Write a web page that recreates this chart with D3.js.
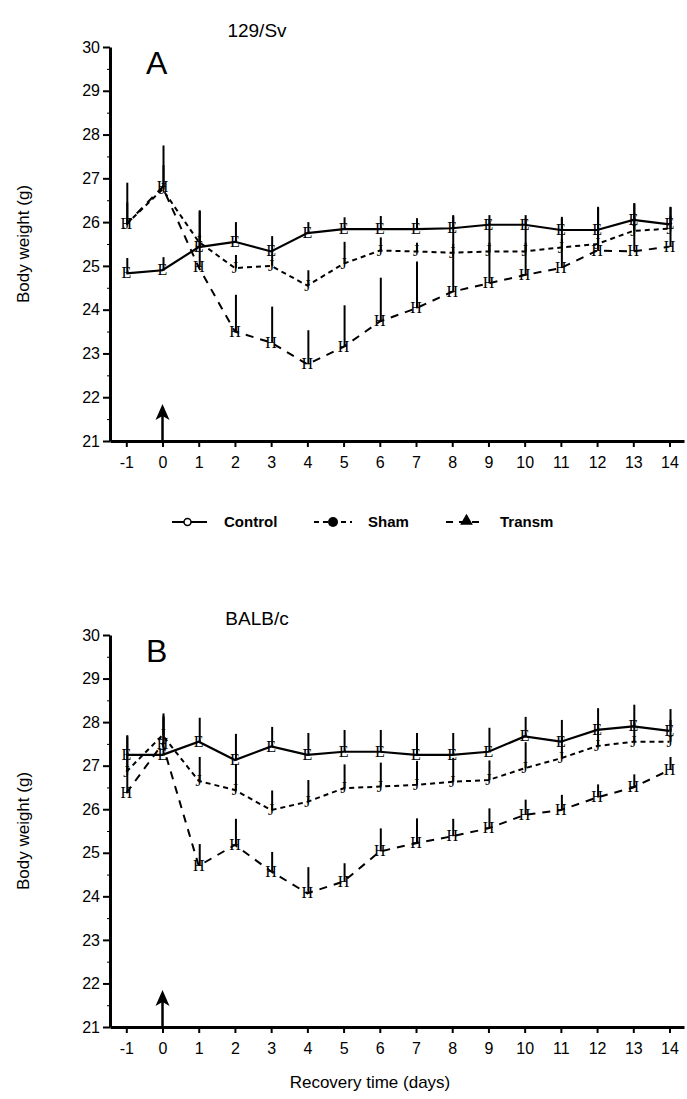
<!DOCTYPE html>
<html>
<head>
<meta charset="utf-8">
<script src="https://cdn.jsdelivr.net/npm/d3@7"></script>
<style>
  body { margin: 0; background: #fff; }
  svg { font-family: Arial, "Liberation Sans", sans-serif; }
  .axis path, .axis line { stroke: #000; }
  .axis text { font-size: 16px; fill: #000; }
</style>
</head>
<body>
<div id="chart"></div>
<script>
// days
var days = [-1, 0, 1, 2, 3, 4, 5, 6, 7, 8, 9, 10, 11, 12, 13, 14];
var yTicks = [21, 22, 23, 24, 25, 26, 27, 28, 29, 30];

// panel A, 129/Sv
var controlA = [24.83, 24.9, 25.43, 25.55, 25.33, 25.75, 25.84, 25.84, 25.84, 25.86, 25.94, 25.94, 25.82, 25.82, 26.05, 25.95];
var controlA_err = [0.35, 0.3, 0.3, 0.45, 0.35, 0.25, 0.27, 0.3, 0.25, 0.3, 0.22, 0.22, 0.3, 0.5, 0.38, 0.4];
var shamA = [25.95, 26.75, 25.55, 24.95, 25.0, 24.55, 25.05, 25.35, 25.33, 25.3, 25.33, 25.33, 25.42, 25.5, 25.8, 25.85];
var shamA_err = [0.95, 1.0, 0.7, 0.3, 0.35, 0.35, 0.5, 0.3, 0.2, 0.2, 0.2, 0.2, 0.2, 0.3, 0.4, 0.3];
var transmA = [25.95, 26.8, 24.97, 23.5, 23.25, 22.75, 23.15, 23.73, 24.03, 24.41, 24.6, 24.79, 24.95, 25.35, 25.33, 25.44];
var transmA_err = [0.5, 0.5, 1.3, 0.84, 0.82, 0.78, 0.95, 1.0, 1.07, 1.72, 1.45, 1.29, 1.13, 1.0, 1.1, 0.9];

// panel B, BALB/c
var controlB = [27.25, 27.25, 27.55, 27.13, 27.44, 27.25, 27.32, 27.32, 27.25, 27.25, 27.32, 27.67, 27.55, 27.82, 27.9, 27.8];
var controlB_err = [0.45, 0.9, 0.55, 0.6, 0.45, 0.5, 0.5, 0.5, 0.5, 0.5, 0.55, 0.45, 0.5, 0.5, 0.5, 0.5];
var shamB = [26.86, 27.7, 26.65, 26.44, 25.98, 26.17, 26.48, 26.52, 26.56, 26.63, 26.67, 26.94, 27.17, 27.45, 27.55, 27.55];
var shamB_err = [0.4, 0.5, 0.55, 0.6, 0.45, 0.5, 0.55, 0.55, 0.55, 0.55, 0.45, 0.6, 0.5, 0.5, 0.5, 0.5];
var transmB = [26.37, 27.5, 24.7, 25.18, 24.57, 24.07, 24.34, 25.03, 25.22, 25.38, 25.56, 25.87, 25.98, 26.27, 26.5, 26.9];
var transmB_err = [1.3, 0.6, 0.5, 0.6, 0.45, 0.6, 0.42, 0.53, 0.57, 0.4, 0.46, 0.35, 0.35, 0.3, 0.3, 0.3];

var svg = d3.select("#chart").append("svg")
    .attr("width", 687)
    .attr("height", 1099);

var x = d3.scaleLinear()
  .domain([-1.45, 14.4])
  .range([110, 684]);

function drawPanel(top, bottom, title, letter, series) {

  var y = d3.scaleLinear()
    .domain([21, 30])
    .range([bottom, top]);

  // minor ticks at the half units
  svg.append("g")
    .attr("class", "axis")
    .attr("transform", "translate(110,0)")
    .call(d3.axisLeft(y).tickValues(d3.range(21.5, 30, 1)).tickSize(3).tickFormat("").tickSizeOuter(0))
    .select(".domain").remove();

  var ya = svg.append("g")
    .attr("class", "axis")
    .attr("transform", "translate(110,0)")
    .call(d3.axisLeft(y).tickValues(yTicks).tickSize(7).tickPadding(3).tickSizeOuter(0));
  ya.select(".domain").attr("stroke-width", 3);
  ya.selectAll(".tick line").attr("stroke-width", 2);

  var xa = svg.append("g")
    .attr("class", "axis")
    .attr("transform", "translate(0," + bottom + ")")
    .call(d3.axisBottom(x).tickValues(days).tickSize(6).tickPadding(10).tickSizeOuter(0)
      .tickFormat(function(d) { return String(d); }));
  xa.select(".domain").attr("stroke-width", 3);
  xa.selectAll(".tick line").attr("stroke-width", 2);

  svg.append("text")
    .attr("x", 257).attr("y", top - 10)
    .attr("text-anchor", "middle")
    .style("font-size", "19px")
    .text(title);

  svg.append("text")
    .attr("x", 146).attr("y", top + 27)
    .style("font-size", "32px")
    .text(letter);

  svg.append("text")
    .attr("transform", "translate(29," + ((top + bottom) / 2) + ") rotate(-90)")
    .attr("text-anchor", "middle")
    .style("font-size", "17px")
    .text("Body weight (g)");

  // arrow at day 0
  var ax = x(0);
  svg.append("line")
    .attr("x1", ax).attr("x2", ax)
    .attr("y1", bottom).attr("y2", bottom - 28)
    .attr("stroke", "#000").attr("stroke-width", 2.5);
  svg.append("path")
    .attr("d", "M" + ax + "," + (bottom - 37) + "L" + (ax + 7) + "," + (bottom - 21) + "L" + ax + "," + (bottom - 25) + "L" + (ax - 7) + "," + (bottom - 21) + "Z")
    .attr("fill", "#000");

  series.forEach(function(s) {
    var pts = days.map(function(d, i) { return {day: d, v: s.values[i], e: s.err[i]}; });

    var line = d3.line()
      .x(function(d) { return x(d.day); })
      .y(function(d) { return y(d.v); });

    svg.append("path")
      .datum(pts)
      .attr("fill", "none")
      .attr("stroke", "#000")
      .attr("stroke-width", s.width)
      .attr("stroke-dasharray", s.dash)
      .attr("d", line);

    // upper error bars
    svg.append("g").selectAll("line")
      .data(pts)
      .join("line")
      .attr("x1", function(d) { return x(d.day) + 1; })
      .attr("x2", function(d) { return x(d.day) + 1; })
      .attr("y1", function(d) { return y(d.v); })
      .attr("y2", function(d) { return y(d.v + d.e); })
      .attr("stroke", "#000")
      .attr("stroke-width", 2);

    // markers came out as font glyphs in the original figure
    svg.append("g").selectAll("text")
      .data(pts)
      .join("text")
      .attr("x", function(d) { return x(d.day); })
      .attr("y", function(d) { return y(d.v) + 5; })
      .attr("text-anchor", "middle")
      .style("font-family", "'Liberation Serif', 'DejaVu Serif', serif")
      .style("font-size", "16px")
      .style("fill", "#000")
      .text(s.glyph);
  });
}

drawPanel(47, 441, "129/Sv", "A", [
  {values: transmA, err: transmA_err, glyph: "H", dash: "8,7", width: 2},
  {values: shamA, err: shamA_err, glyph: "J", dash: "5,4", width: 2},
  {values: controlA, err: controlA_err, glyph: "E", dash: null, width: 2.2}
]);

drawPanel(635, 1027, "BALB/c", "B", [
  {values: transmB, err: transmB_err, glyph: "H", dash: "8,7", width: 2},
  {values: shamB, err: shamB_err, glyph: "J", dash: "5,4", width: 2},
  {values: controlB, err: controlB_err, glyph: "E", dash: null, width: 2.2}
]);

svg.append("text")
  .attr("x", 370).attr("y", 1088)
  .attr("text-anchor", "middle")
  .style("font-size", "17px")
  .text("Recovery time (days)");

// legend
var legend = [
  ["Control", null, "open", 172, 207, 224],
  ["Sham", "5,4", "filled", 314, 352, 368],
  ["Transm", "7,6", "triangle", 446, 479, 500]
];
var ly = 522;
legend.forEach(function(l) {
  svg.append("line")
    .attr("x1", l[3]).attr("x2", l[4])
    .attr("y1", ly).attr("y2", ly)
    .attr("stroke", "#000").attr("stroke-width", 2)
    .attr("stroke-dasharray", l[1]);
  var cx = (l[3] + l[4]) / 2;
  if (l[2] === "open") {
    svg.append("circle").attr("cx", cx - 2).attr("cy", ly).attr("r", 3.5)
      .attr("fill", "#fff").attr("stroke", "#000").attr("stroke-width", 1.5);
  } else if (l[2] === "filled") {
    svg.append("circle").attr("cx", cx).attr("cy", ly).attr("r", 5).attr("fill", "#000");
  } else {
    svg.append("path").attr("d", d3.symbol(d3.symbolTriangle, 70)())
      .attr("transform", "translate(" + (cx + 4) + "," + (ly - 1) + ")")
      .attr("fill", "#000");
  }
  svg.append("text")
    .attr("x", l[5]).attr("y", ly + 5)
    .style("font-size", "15px")
    .style("font-weight", "bold")
    .text(l[0]);
});
</script>
</body>
</html>
